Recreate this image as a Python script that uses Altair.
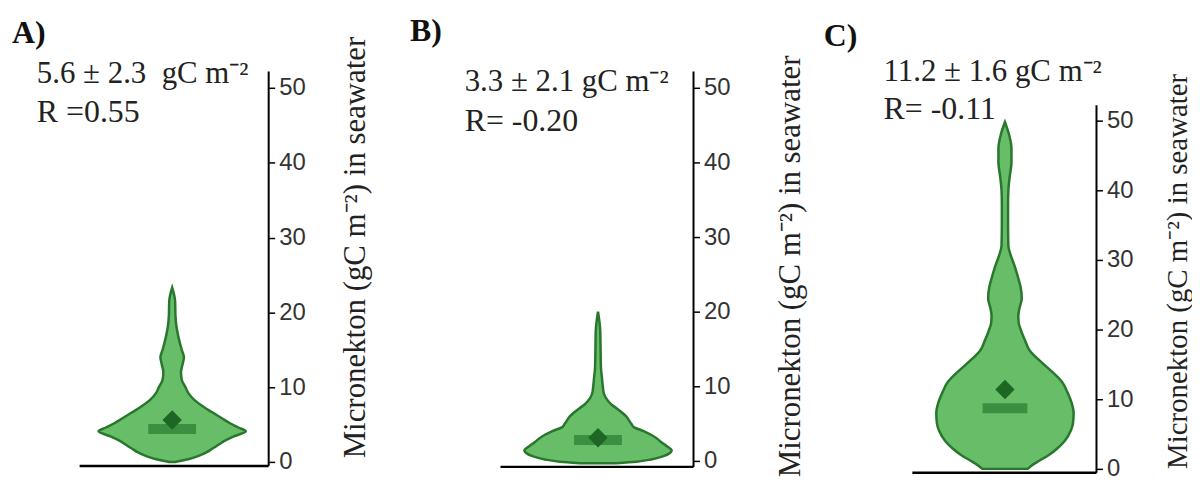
import altair as alt
import pandas as pd

# ---------------- data ----------------
PANEL_LABELS = ["A)", "B)", "C)"]
STAT_TEXT = ["5.6 ± 2.3\u00a0 gC m⁻²", "3.3 ± 2.1 gC m⁻²", "11.2 ± 1.6 gC m⁻²"]
R_TEXT = ["R =0.55", "R= -0.20", "R= -0.11"]
Y_TITLE = "Micronekton (gC m⁻²) in seawater"
TICK_VALUES = [0, 10, 20, 30, 40, 50]

# violin profiles: value (gC m-2) and relative density (half width, max = 1)
A_VALUES = [0, 0.4, 0.8, 1.3, 1.8, 2.1, 2.5, 3.0, 3.5, 4.1, 4.6, 5.2, 5.8, 6.6, 7.4,
            8.3, 9.2, 10.0, 11.0, 12.0, 13.0, 14.0, 15.0, 16.5, 18.0, 19.5, 21.5, 23.3]
A_DENSITY = [0.04, 0.23, 0.36, 0.47, 0.55, 0.60, 0.66, 0.75, 0.86, 1.00, 0.90, 0.78, 0.68,
             0.55, 0.42, 0.30, 0.22, 0.18, 0.13, 0.12, 0.14, 0.16, 0.13, 0.09, 0.06, 0.045,
             0.04, 0.0]

B_VALUES = [-0.3, -0.1, 0.2, 0.6, 1.1, 1.4, 2.0, 2.5, 3.0, 3.5, 4.0, 4.5, 5.0, 6.0, 7.0,
            7.5, 8.0, 9.0, 10.0, 11.0, 12.5, 15.0, 17.5, 20.0]
B_DENSITY = [0.25, 0.52, 0.72, 0.88, 0.98, 1.00, 0.93, 0.86, 0.80, 0.72, 0.62, 0.49, 0.45,
             0.38, 0.26, 0.19, 0.14, 0.08, 0.065, 0.055, 0.04, 0.035, 0.03, 0.0]

C_VALUES = [0, 0.5, 1.0, 2.0, 3.0, 4.0, 5.5, 6.5, 8.0, 9.5, 11.0, 12.5, 14.0, 15.5, 17.0,
            18.5, 20.0, 21.0, 22.0, 23.0, 24.5, 26.0, 27.5, 29.0, 30.5, 32.0, 35.0, 38.0,
            40.0, 42.0, 44.0, 46.0, 48.0, 49.8]
C_DENSITY = [0.33, 0.39, 0.47, 0.64, 0.77, 0.87, 0.96, 0.99, 1.00, 0.97, 0.91, 0.83, 0.68,
             0.51, 0.36, 0.29, 0.23, 0.20, 0.195, 0.21, 0.245, 0.23, 0.19, 0.145, 0.09,
             0.05, 0.045, 0.045, 0.05, 0.07, 0.095, 0.095, 0.06, 0.0]

MEANS = [5.6, 3.1, 11.4]
MEDIANS = [4.4, 2.8, 8.7]

# ---------------- style ----------------
FILL = "#68bd68"
STROKE = "#28772d"
BAR = "#3a9040"
DIAMOND = "#1e6624"
SERIF = "Liberation Serif"
SANS = "Liberation Sans"
TEXT_COLOR = "#222222"

LAYOUT = [
    dict(width=194, height=455, xdom=[-1.311, 1.311], ydom=[-0.53, 60.0], line0=-1.257,
         lab=(-64, 30), stat=(-39, 70), r=(-39, 109), tx=96, ty=235, tfs=31, bar=48),
    dict(width=200, height=456, xdom=[-1.405, 1.297], ydom=[-0.8, 60.0], line0=-1.324,
         lab=(-85, 28), stat=(-30, 78), r=(-30, 118), tx=107, ty=254, tfs=31, bar=48),
    dict(width=178, height=462, xdom=[-1.246, 1.333], ydom=[-0.57, 65.43], line0=-1.348,
         lab=(-96, 33), stat=(-36, 68), r=(-36, 106), tx=90, ty=259, tfs=29, bar=45),
]
AXIS_TOP = 52.2


def panel(i, values, density):
    L = LAYOUT[i]
    xs = alt.Scale(domain=L["xdom"], nice=False, zero=False)
    ys = alt.Scale(domain=L["ydom"], nice=False, zero=False)
    df = pd.DataFrame({"v": values, "d": density})
    df["neg"] = [-d for d in density]

    violin = alt.Chart(df).mark_area(
        orient="horizontal", fill=FILL, stroke=STROKE, strokeWidth=2.5,
        interpolate="monotone", fillOpacity=1
    ).encode(
        y=alt.Y("v:Q", scale=ys, axis=alt.Axis(
            orient="right", values=TICK_VALUES, domain=False, grid=False,
            ticks=True, tickSize=6, tickWidth=1.5, tickColor="black",
            labelFont=SANS, labelFontSize=24, labelColor="#333333", labelPadding=4,
            title=Y_TITLE, titleFont=SERIF, titleFontSize=L["tfs"],
            titleFontWeight="normal", titleColor=TEXT_COLOR, titleAngle=270,
            titleAlign="center", titleBaseline="alphabetic",
            titleX=L["tx"], titleY=L["ty"])),
        x=alt.X("neg:Q", scale=xs, axis=None),
        x2="d:Q",
    )

    med = alt.Chart(pd.DataFrame({"v": [MEDIANS[i]], "c": [0]})).mark_tick(
        orient="horizontal", size=L["bar"], thickness=10, color=BAR, opacity=1
    ).encode(x=alt.X("c:Q", scale=xs, axis=None), y=alt.Y("v:Q", scale=ys))

    mean = alt.Chart(pd.DataFrame({"v": [MEANS[i]], "c": [0]})).mark_point(
        shape="diamond", filled=True, size=380, color=DIAMOND, opacity=1
    ).encode(x=alt.X("c:Q", scale=xs, axis=None), y=alt.Y("v:Q", scale=ys))

    yaxis_line = alt.Chart(pd.DataFrame({"v": [L["ydom"][0]], "v2": [AXIS_TOP]})).mark_rule(
        color="black", strokeWidth=2
    ).encode(x=alt.value(L["width"]), y=alt.Y("v:Q", scale=ys), y2="v2:Q")

    xaxis_line = alt.Chart(pd.DataFrame({"c": [L["line0"]], "c2": [L["xdom"][1]]})).mark_rule(
        color="black", strokeWidth=2.5
    ).encode(x=alt.X("c:Q", scale=xs, axis=None), x2="c2:Q", y=alt.value(L["height"]))

    def txt(s, pos, size, weight="normal"):
        return alt.Chart(pd.DataFrame({"t": [s]})).mark_text(
            align="left", baseline="alphabetic", font=SERIF, fontSize=size,
            fontWeight=weight, color="#111111" if weight == "bold" else TEXT_COLOR
        ).encode(text="t:N", x=alt.value(pos[0]), y=alt.value(pos[1]))

    layers = [violin, med, mean, yaxis_line, xaxis_line,
              txt(PANEL_LABELS[i], L["lab"], 32, "bold"),
              txt(STAT_TEXT[i], L["stat"], 31),
              txt(R_TEXT[i], L["r"], 32)]
    return alt.layer(*layers).properties(width=L["width"], height=L["height"])


chart = alt.hconcat(
    panel(0, A_VALUES, A_DENSITY),
    panel(1, B_VALUES, B_DENSITY),
    panel(2, C_VALUES, C_DENSITY),
    spacing=227, bounds="flush",
).properties(
    padding={"left": 4, "top": 4, "right": 0, "bottom": 0}
).configure(background="white").configure_view(strokeWidth=0)

chart.save("out.html", embed_options={"renderer": "svg", "actions": False})
